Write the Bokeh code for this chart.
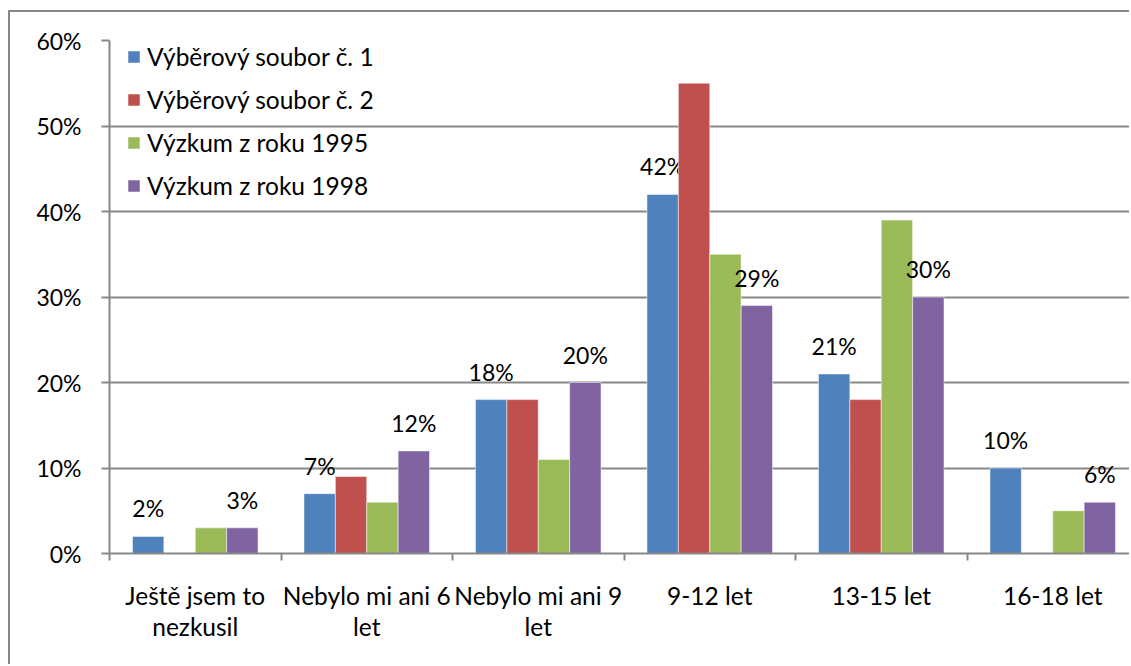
from bokeh.plotting import figure
from bokeh.models import (ColumnDataSource, Range1d, FixedTicker, PrintfTickFormatter,
                          Legend, LegendItem)
from bokeh.transform import dodge
from bokeh.core.properties import value
from bokeh.embed import file_html
from bokeh.resources import INLINE

categories = ["Ještě jsem to\nnezkusil", "Nebylo mi ani 6\nlet", "Nebylo mi ani 9\nlet",
              "9-12 let", "13-15 let", "16-18 let"]
series_names = ["Výběrový soubor č. 1", "Výběrový soubor č. 2",
                "Výzkum z roku 1995", "Výzkum z roku 1998"]
s1 = [2, 7, 18, 42, 21, 10]
s2 = [0, 9, 18, 55, 18, 0]
s3 = [3, 6, 11, 35, 39, 5]
s4 = [3, 12, 20, 29, 30, 6]
labelled = [True, False, False, True]
y_ticks = [0, 10, 20, 30, 40, 50, 60]

colors = ["#4F81BD", "#C0504D", "#9BBB59", "#8064A2"]
FONT = "Lato"
FS_TXT = "24.5px"
FS_NUM = "23px"

xc = [i + 0.5 for i in range(len(categories))]
src = ColumnDataSource(dict(xc=xc, s1=s1, s2=s2, s3=s3, s4=s4,
                            l1=[f"{v}%" if v else "" for v in s1],
                            l2=[f"{v}%" if v else "" for v in s2],
                            l3=[f"{v}%" if v else "" for v in s3],
                            l4=[f"{v}%" if v else "" for v in s4]))

W, H = 1121, 654
p = figure(width=W, height=H, output_backend="svg", toolbar_location=None,
           x_range=Range1d(0, (W + 10 - 109) / 171.5), y_range=Range1d(0, 60),
           min_border_left=99, min_border_top=28, min_border_bottom=H - 541,
           min_border_right=0)
p.styles = {"border-top": "2px solid #878787", "border-left": "2px solid #878787",
            "margin-top": "10px", "margin-left": "8px"}
p.outline_line_color = None
p.background_fill_color = "white"
p.border_fill_color = "white"

bw = 0.183
offsets = [(-1.5) * bw, (-0.5) * bw, 0.5 * bw, 1.5 * bw]
fields = ["s1", "s2", "s3", "s4"]
items = []
for j, f in enumerate(fields):
    r = p.vbar(x=dodge("xc", offsets[j]), top=f, width=bw, bottom=0, source=src,
               fill_color=colors[j], line_color="white", line_width=1, line_alpha=0.5)
    items.append(LegendItem(label=series_names[j], renderers=[r]))
    if labelled[j]:
        p.text(x=dodge("xc", offsets[j]), y=f, text="l" + f[1], source=src,
               text_align="center", text_baseline="alphabetic", y_offset=-28,
               text_font=value(FONT), text_font_size=FS_NUM, text_color="black")

legend = Legend(items=items, location=(17, 353), margin=0, padding=0,
                background_fill_alpha=0, border_line_alpha=0,
                label_text_font=FONT, label_text_font_size=FS_TXT,
                label_text_color="black",
                glyph_width=15, glyph_height=15, label_standoff=6,
                spacing=13, label_height=30)
p.add_layout(legend, "center")

# axes
p.yaxis.ticker = FixedTicker(ticks=y_ticks)
p.yaxis.formatter = PrintfTickFormatter(format="%d%%")
p.yaxis.axis_line_color = "#878787"
p.yaxis.axis_line_width = 2
p.yaxis.major_tick_line_color = "#878787"
p.yaxis.major_tick_line_width = 2
p.yaxis.major_tick_out = 8
p.yaxis.major_tick_in = 0
p.yaxis.minor_tick_line_color = None
p.yaxis.major_label_standoff = 20
p.yaxis.major_label_text_font = FONT
p.yaxis.major_label_text_font_size = FS_NUM
p.yaxis.major_label_text_color = "black"

p.xaxis.ticker = FixedTicker(ticks=xc, minor_ticks=list(range(0, 7)))
p.xaxis.major_label_overrides = {x: c for x, c in zip(xc, categories)}
p.xaxis.axis_line_color = "#878787"
p.xaxis.axis_line_width = 2
p.xaxis.major_tick_line_color = None
p.xaxis.major_tick_out = 7
p.xaxis.major_tick_in = 0
p.xaxis.minor_tick_line_color = "#878787"
p.xaxis.minor_tick_line_width = 2
p.xaxis.minor_tick_out = 7
p.xaxis.minor_tick_in = 0
p.xaxis.major_label_standoff = 20
p.xaxis.major_label_text_font = FONT
p.xaxis.major_label_text_font_size = FS_TXT
p.xaxis.major_label_text_color = "black"
p.xaxis.major_label_text_line_height = 1.08

p.xgrid.grid_line_color = None
p.ygrid.grid_line_color = "#878787"
p.ygrid.grid_line_width = 2

open("out.html", "w").write(file_html(p, INLINE))
